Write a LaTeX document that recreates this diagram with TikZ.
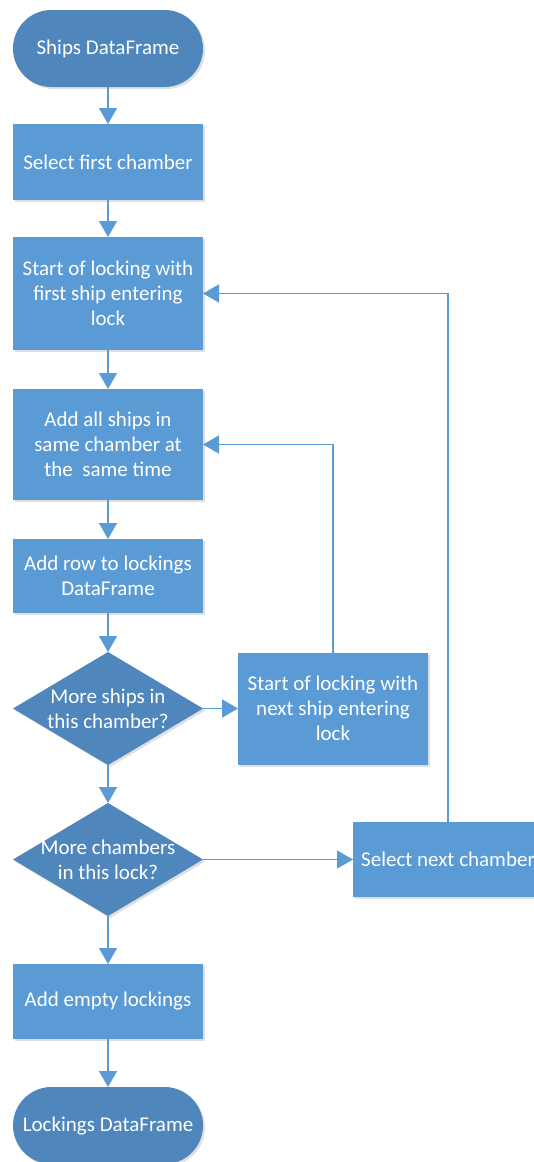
\documentclass[tikz,border=0pt]{standalone}
\usepackage{fontspec}
\setmainfont{Carlito}
\usetikzlibrary{arrows.meta, positioning, shapes.geometric, shapes.misc, shadows}

\definecolor{boxblue}{HTML}{5B9BD5}
\definecolor{termblue}{HTML}{4F87BD}

\tikzset{
  soft/.style={drop shadow={opacity=0.25, shadow xshift=2pt, shadow yshift=-2pt}},
  procbox/.style={rectangle, fill=boxblue, minimum width=190pt, minimum height=76pt, inner sep=0pt, outer sep=0pt, soft},
  termbox/.style={rounded rectangle, fill=termblue, minimum width=190pt, minimum height=77pt, inner sep=0pt, outer sep=0pt, soft},
  decision/.style={diamond, fill=termblue, minimum width=190pt, minimum height=113pt, inner sep=0pt, outer sep=0pt, soft}
}

\begin{document}
\begin{tikzpicture}[->, >={Triangle[width=18pt, length=16pt]}, line width=1.6pt, draw=boxblue,
                    node distance=37pt, font=\fontsize{21}{25}\selectfont, text=white,
                    every node/.append style={align=center}]

                        \useasboundingbox (0pt,0pt) rectangle (534pt,-1162pt);

                        % Main column
                        \node (ships) [termbox] at (108pt,-48.5pt) {Ships DataFrame};
                        \node (first) [procbox, below=of ships] {Select first chamber};
                        \node (startlock) [procbox, minimum height=113pt, below=of first] {Start of locking with\\first ship entering\\lock};
                        \node (addall) [procbox, minimum height=111pt, below=39pt of startlock] {Add all ships in\\same chamber at\\the\ \ same time};
                        \node (addrow) [procbox, minimum height=74pt, below=39pt of addall] {Add row to lockings\\DataFrame};
                        \node (q1) [decision, below=39pt of addrow, label={center:More ships in\\this chamber?}] {};
                        \node (q2) [decision, below=38pt of q1, label={center:More chambers\\in this lock?}] {};
                        \node (empty) [procbox, minimum height=75pt, below=48pt of q2] {Add empty lockings};
                        \node (lockings) [termbox, below=48pt of empty] {Lockings DataFrame};

                        % Loop boxes on the right
                        \node (nextship) [procbox, minimum height=112pt, right=35pt of q1] {Start of locking with\\next ship entering\\lock};
                        \node (selnext) [procbox, minimum height=75pt, right=150pt of q2] {Select next chamber};

                        % Connectors
                        \draw (ships) -- (first);
                        \draw (first) -- (startlock);
                        \draw (startlock) -- (addall);
                        \draw (addall) -- (addrow);
                        \draw (addrow) -- (q1);
                        \draw (q1) -- (nextship);
                        \draw (nextship) |- (addall);
                        \draw (q1) -- (q2);
                        \draw (q2) -- (selnext);
                        \draw (selnext) |- (startlock);
                        \draw (q2) -- (empty);
                        \draw (empty) -- (lockings);

                \end{tikzpicture}
\end{document}
